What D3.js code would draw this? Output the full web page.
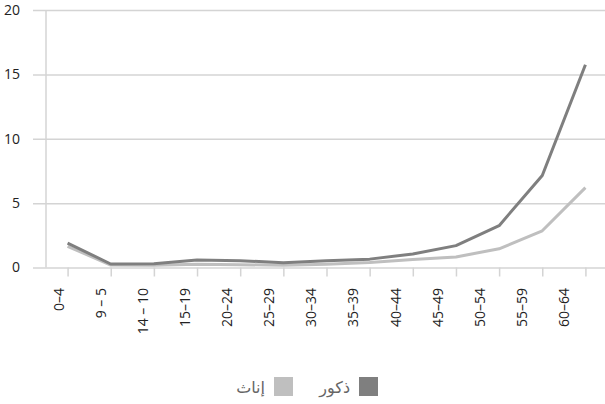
<!DOCTYPE html>
<html>
<head>
<meta charset="utf-8">
<script src="https://cdn.jsdelivr.net/npm/d3@7"></script>
<style>
  body { margin: 0; background: #fff; }
  svg { display: block; font-family: "Open Sans", "DejaVu Sans", sans-serif; }
</style>
</head>
<body>
<svg id="chart"></svg>
<script>
const categories = ["0–4", "9 – 5", "14 – 10", "15–19", "20–24", "25–29", "30–34",
  "35–39", "40–44", "45–49", "50–54", "55–59", "60–64"];
const males = [1.9, 0.27, 0.3, 0.58, 0.53, 0.37, 0.53, 0.65, 1.05, 1.7, 3.25, 7.15, 15.75];
const females = [1.65, 0.19, 0.18, 0.25, 0.22, 0.17, 0.25, 0.38, 0.62, 0.82, 1.45, 2.85, 6.2];
const yTicks = [0, 5, 10, 15, 20];
const legendItems = [
  { label: "ذكور", color: "#7f7f7f" },
  { label: "إناث", color: "#bfbfbf" }
];

const width = 605, height = 404;
const svg = d3.select("#chart").attr("width", width).attr("height", height);

const plotLeft = 46, plotRight = 607, plotTop = 10, plotBottom = 267.5;

const x = d3.scalePoint().domain(categories).range([plotLeft, plotRight]).padding(0.5);
// tick labels sit slightly left of the ticks in the original
const labelX = d3.scalePoint().domain(categories).range([59, 564]);
const y = d3.scaleLinear().domain([0, 20]).range([plotBottom, plotTop]);

// gridlines + y labels
const yAxis = svg.append("g")
  .attr("transform", `translate(${plotLeft},0)`)
  .call(d3.axisLeft(y).tickValues(yTicks).tickSize(-(width - plotLeft)).tickSizeOuter(0).tickPadding(26));
yAxis.select(".domain").remove();
yAxis.selectAll(".tick line")
  .attr("x1", -13)
  .attr("stroke", "#d4d4d4").attr("stroke-width", 1.5);
yAxis.selectAll(".tick text")
  .attr("font-size", 14).attr("fill", "#222").attr("font-family", "Open Sans, sans-serif");

// vertical axis line
svg.append("line")
  .attr("x1", plotLeft).attr("x2", plotLeft)
  .attr("y1", y(20)).attr("y2", y(0))
  .attr("stroke", "#d4d4d4").attr("stroke-width", 1.5);

// x ticks
const xAxis = svg.append("g")
  .attr("transform", `translate(0,${plotBottom})`)
  .call(d3.axisBottom(x).tickSize(9).tickSizeOuter(0).tickFormat(""));
xAxis.select(".domain").remove();
xAxis.selectAll(".tick line").attr("stroke", "#d4d4d4").attr("stroke-width", 1.5);

// x labels
svg.append("g").selectAll("text")
  .data(categories)
  .join("text")
  .attr("transform", d => `translate(${labelX(d)},288) rotate(-90)`)
  .attr("text-anchor", "end")
  .attr("dy", "0.35em")
  .attr("font-size", 14)
  .attr("fill", "#222")
  .text(d => d);

const line = d3.line()
  .x((d, i) => x(categories[i]))
  .y(d => y(d));

svg.append("path")
  .datum(females)
  .attr("d", line)
  .attr("fill", "none")
  .attr("stroke", legendItems[1].color)
  .attr("stroke-width", 3)
  .attr("stroke-linejoin", "round");

svg.append("path")
  .datum(males)
  .attr("d", line)
  .attr("fill", "none")
  .attr("stroke", legendItems[0].color)
  .attr("stroke-width", 3)
  .attr("stroke-linejoin", "round");

// legend (right to left)
const legendX = [359, 274];
const legend = svg.append("g").selectAll("g")
  .data(legendItems)
  .join("g")
  .attr("transform", (d, i) => `translate(${legendX[i]},377)`);
legend.append("rect")
  .attr("width", 19).attr("height", 19)
  .attr("fill", d => d.color);
legend.append("text")
  .attr("x", -9)
  .attr("y", 16)
  .attr("text-anchor", "end")
  .attr("font-size", 16)
  .attr("font-family", "Noto Sans, DejaVu Sans, sans-serif")
  .attr("fill", "#666")
  .text(d => d.label);
</script>
</body>
</html>
